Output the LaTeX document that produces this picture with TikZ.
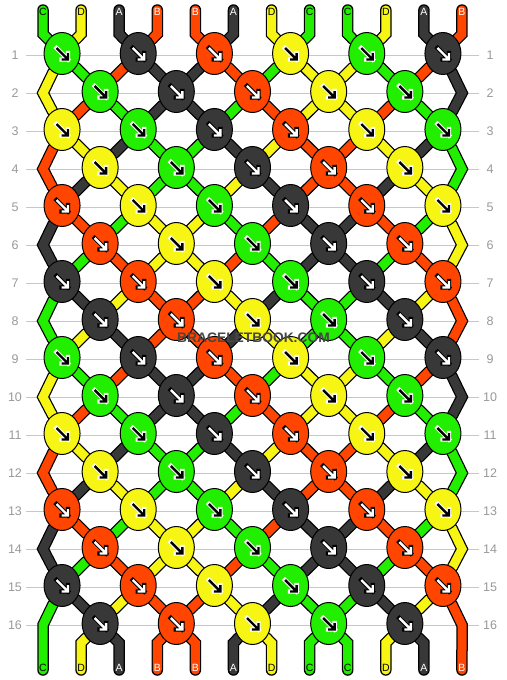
\documentclass[tikz,border=0pt]{standalone}
\usepackage{fontspec}
\setmainfont{Liberation Sans}
\usetikzlibrary{shapes.geometric}

\definecolor{strC}{RGB}{34,238,0}
\definecolor{strA}{RGB}{56,56,56}
\definecolor{strB}{RGB}{255,69,0}
\definecolor{strD}{RGB}{247,245,20}
% knot colour index: 0=C, 1=A, 2=B, 3=D
\colorlet{col0}{strC}\colorlet{col1}{strA}\colorlet{col2}{strB}\colorlet{col3}{strD}
\colorlet{ink0}{black}\colorlet{ink1}{white}\colorlet{ink2}{white}\colorlet{ink3}{black}
\colorlet{halo0}{white}\colorlet{halo1}{black}\colorlet{halo2}{black}\colorlet{halo3}{white}
\colorlet{txtC}{black}\colorlet{txtA}{white}\colorlet{txtB}{white}\colorlet{txtD}{black}

\pgfdeclarelayer{grid}
\pgfdeclarelayer{rim}
\pgfdeclarelayer{yarn}
\pgfsetlayers{grid,rim,yarn,main}

\tikzset{
  knot/.style={ellipse, draw=black, line width=1pt, fill=col#1,
    minimum width=36pt, minimum height=42pt, inner sep=0pt},
  rowno/.style={text=black!40, font=\fontsize{12.5}{13}\selectfont, inner sep=0pt},
  tag/.style={font=\fontsize{10.5}{11}\selectfont, inner sep=0pt},
  gridline/.style={black!22, line width=1pt},
  marktext/.style={font=\bfseries\fontsize{13.8}{14}\selectfont, inner sep=0pt},
}

% a thread piece: black rim first, colour on top
\newcommand\strand[2]{%
  \begin{pgfonlayer}{rim}\draw[black, line width=11.5pt, line cap=round] #2;\end{pgfonlayer}%
  \begin{pgfonlayer}{yarn}\draw[line width=9pt, line cap=round, col#1] #2;\end{pgfonlayer}}

% forward knot arrow
\newcommand\knotarrow[2]{%
  \draw[line width=4.4pt, line cap=rect, halo#2] ([shift={(-5.5,-5.5)}]#1.center)
    -- ++(11.5,11.5) ++(0,-6.5) -- ++(0,6.5) -- ++(-6.5,0);
  \draw[line width=2.4pt, ink#2] ([shift={(-5.5,-5.5)}]#1.center)
    -- ++(11.5,11.5) ++(0,-6.5) -- ++(0,6.5) -- ++(-6.5,0);}

\def\sx{38.09}

\begin{document}
\begin{tikzpicture}[x=1pt, y=-1pt]
\begin{pgfonlayer}{grid}
  \fill[white] (0,0) rectangle (506,680);
\end{pgfonlayer}
\useasboundingbox (0,0) rectangle (506,680);

% row lines and numbers
\foreach \r in {1,...,16}{
  \pgfmathsetmacro\gy{55+38*(\r-1)}
  \begin{pgfonlayer}{grid}
    \draw[gridline] (26,\gy) -- (479,\gy);
  \end{pgfonlayer}
  \node[rowno] (nl-\r) at (15,\gy) {\r};
  \node[rowno] (nr-\r) at (490,\gy) {\r};
}

% thread ends and edge turns
\foreach \i in {0,...,11}{
  \coordinate (t-\i) at ({43+\sx*\i},10);
  \coordinate (tb-\i) at ({43+\sx*\i},34);
  \coordinate (bb-\i) at ({43+\sx*\i},643);
  \coordinate (b-\i) at ({43+\sx*\i},670);
}
\foreach \r in {2,4,...,16}{
  \coordinate (eL-\r) at (43,{55+38*(\r-1)});
  \coordinate (eR-\r) at (462,{55+38*(\r-1)});
}

% knots, with the two threads coming in from above
\foreach \r in {1,...,16}{
  \pgfmathtruncatemacro\half{(\r-1)/2}
  \pgfmathtruncatemacro\even{1-mod(\r,2)}
  \pgfmathtruncatemacro\last{5-\even}
  \pgfmathtruncatemacro\ra{\r-1}
  \pgfmathtruncatemacro\rb{\r-2}
  \pgfmathsetmacro\ky{53.5+38*(\r-1)}
  \foreach \j in {0,...,\last}{
    \pgfmathtruncatemacro\kc{mod(\j-\half+8,4)}
    \pgfmathtruncatemacro\wc{mod(19-\j-\half-\even,4)}
    \pgfmathtruncatemacro\jl{\j-1+\even}
    \pgfmathtruncatemacro\jr{\j+\even}
    \pgfmathtruncatemacro\edgeL{(1-\even)*(\j==0)}
    \pgfmathtruncatemacro\edgeR{(1-\even)*(\j==5)}
    \node[knot=\kc] (k-\r-\j) at ({43+\sx*(2*\j+0.5+\even)},\ky) {};
    \knotarrow{k-\r-\j}{\kc}
    \ifnum\r=1
      \pgfmathtruncatemacro\il{2*\j}
      \pgfmathtruncatemacro\ir{2*\j+1}
      \strand{\kc}{(t-\il) -- (tb-\il) -- (k-\r-\j)}
      \strand{\wc}{(t-\ir) -- (tb-\ir) -- (k-\r-\j)}
    \else
      \ifnum\edgeL=1
        \strand{\kc}{(k-\rb-0) -- (eL-\ra) -- (k-\r-\j)}
      \else
        \strand{\kc}{(k-\ra-\jl) -- (k-\r-\j)}
      \fi
      \ifnum\edgeR=1
        \strand{\wc}{(k-\rb-5) -- (eR-\ra) -- (k-\r-\j)}
      \else
        \strand{\wc}{(k-\ra-\jr) -- (k-\r-\j)}
      \fi
    \fi
  }
}

% threads leaving the last row
\foreach \j in {0,...,4}{
  \pgfmathtruncatemacro\wc{mod(11-\j,4)}
  \pgfmathtruncatemacro\kc{mod(\j+1,4)}
  \pgfmathtruncatemacro\il{2*\j+1}
  \pgfmathtruncatemacro\ir{2*\j+2}
  \strand{\wc}{(k-16-\j) -- (bb-\il) -- (b-\il)}
  \strand{\kc}{(k-16-\j) -- (bb-\ir) -- (b-\ir)}
}
\strand{0}{(k-15-0) -- (eL-16) -- (b-0)}
\strand{2}{(k-15-5) -- (eR-16) -- (b-11)}

% thread letters
\foreach \lt [count=\i from 0] in {C,D,A,B,B,A,D,C,C,D,A,B}{
  \node[tag, text=txt\lt] (top-\i) at ({43+\sx*\i},12) {\lt};
  \node[tag, text=txt\lt] (bot-\i) at ({43+\sx*\i},668) {\lt};
}

\node[marktext, text=black!72] (mark) at (253.5,338) {BRACELETBOOK.COM};
\end{tikzpicture}
\end{document}
